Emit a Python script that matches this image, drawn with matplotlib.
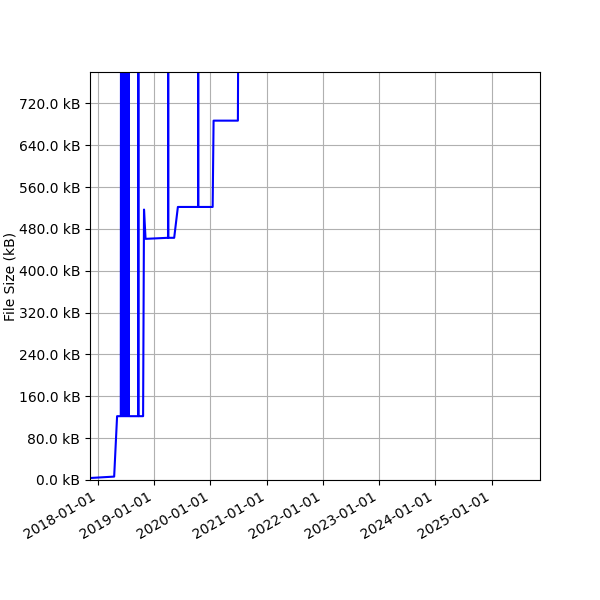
import matplotlib.pyplot as plt
import matplotlib.dates as mdates
import matplotlib.ticker as ticker
import pandas as pd

# размер файла по датам (kB); выбросы выше предела оси обрезаются
dates = [
    "2017-11-10", "2018-04-16", "2018-05-05", "2018-05-29",
    "2018-05-31", "2018-06-02", "2018-06-04", "2018-06-06", "2018-06-08",
    "2018-06-10", "2018-06-12", "2018-06-14", "2018-06-16", "2018-06-18",
    "2018-06-20", "2018-06-22", "2018-06-24", "2018-06-26", "2018-06-28",
    "2018-06-30", "2018-07-02", "2018-07-04", "2018-07-06", "2018-07-08",
    "2018-07-10", "2018-07-12", "2018-07-14", "2018-07-16", "2018-07-18",
    "2018-07-20", "2018-09-19", "2018-09-20", "2018-09-21",
    "2018-10-21", "2018-10-27", "2018-11-06", "2019-03-29",
    "2019-04-01", "2019-04-02", "2019-04-03", "2019-05-11", "2019-06-04",
    "2019-10-13", "2019-10-14", "2019-10-15", "2020-01-16",
    "2020-01-22", "2020-06-28", "2020-07-06",
]
sizes_kb = [
    3.8, 6.5, 122, 122,
    1300, 122, 1300, 122, 1300,
    122, 1300, 122, 1300, 122,
    1300, 122, 1300, 122, 1300,
    122, 1300, 122, 1300, 122,
    1300, 122, 1300, 122, 1300,
    122, 122, 1300, 122,
    122, 517, 461, 463,
    463, 1300, 463, 463, 522,
    522, 1300, 522, 522,
    687, 687, 1300,
]

df = pd.DataFrame({"date": pd.to_datetime(dates), "size": sizes_kb})

fig, ax = plt.subplots(figsize=(6, 6), dpi=100)
ax.plot(df["date"], df["size"], color="blue", linewidth=1.5)

ax.set_xlim(pd.Timestamp("2017-11-10"), pd.Timestamp("2025-11-12"))
ax.set_ylim(0, 780)
ax.yaxis.set_major_locator(ticker.MultipleLocator(80))
ax.yaxis.set_major_formatter(ticker.FuncFormatter(lambda v, p: f"{v:.1f} kB"))
ax.xaxis.set_major_locator(mdates.YearLocator())
ax.xaxis.set_major_formatter(mdates.DateFormatter("%Y-%m-%d"))
ax.set_ylabel("File Size (kB)", labelpad=1)
ax.grid(True)

fig.autofmt_xdate()
fig.subplots_adjust(left=0.15, right=0.9, top=0.88, bottom=0.2)
plt.savefig("out.png", dpi=100)
